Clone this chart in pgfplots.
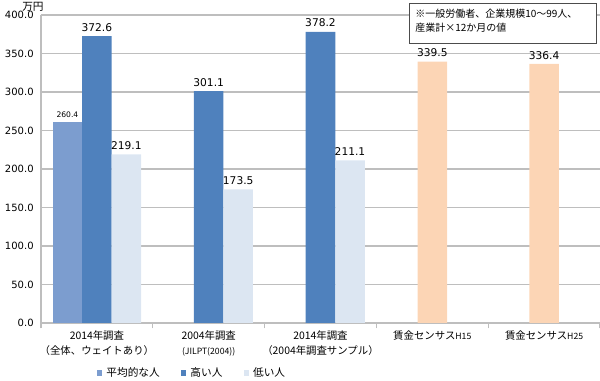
\documentclass[border=0pt]{standalone}
\usepackage{fontspec}
\setmainfont{DejaVu Sans}
\newfontfamily\jp{Noto Sans CJK JP}
\usepackage{pgfplots}
\pgfplotsset{compat=1.18}
\definecolor{avgc}{RGB}{124,157,207}
\definecolor{highc}{RGB}{79,129,189}
\definecolor{lowc}{RGB}{220,230,242}
\definecolor{peach}{RGB}{252,213,181}
\definecolor{gridc}{RGB}{190,190,190}
\begin{document}
\begin{tikzpicture}[x=1pt,y=1pt]
\path[use as bounding box] (-30.75pt,-43.5pt) rectangle (419.25pt,242.25pt);
\begin{axis}[
 at={(0pt,0pt)}, anchor=south west,
 scale only axis, width=419.25pt, height=231pt,
 ymin=0, ymax=400, xmin=-0.5, xmax=4.5,
 ybar, bar width=0.264,
 ytick={0,50,...,400},
 ymajorgrids, grid style={gridc, line width=0.8pt},
 axis x line*=bottom, axis y line*=left,
 axis line style={gridc, line width=0.8pt, -},
 major tick length=0pt,
 minor tick length=4pt,
 tick align=outside,
 xtick={0,1,2,3,4},
 minor xtick={-0.5,0.5,1.5,2.5,3.5,4.5},
 minor tick style={gridc, line width=0.8pt},
 xticklabels={
  {2014年調査\\（全体、ウェイトあり）},
  {2004年調査\\{\fontsize{6.5}{8}\selectfont (JILPT(2004))}},
  {2014年調査\\（2004年調査サンプル）},
  {賃金センサス{\fontsize{6.5}{8}\selectfont H15}},
  {賃金センサス{\fontsize{6.5}{8}\selectfont H25}}},
 xticklabel style={align=center, font=\jp\fontsize{7.8}{11.3}\selectfont, text=black, anchor=north, yshift=-2.5pt},
 yticklabel style={font=\fontsize{7.5}{9}\selectfont, text=black, xshift=-2pt},
 /pgf/number format/.cd, fixed, fixed zerofill, precision=1, assume math mode=true,
 /pgfplots/.cd,
 legend style={at={(0.271,-0.162)}, anchor=center, draw=none, legend columns=3,
   font=\jp\fontsize{8}{9}\selectfont,
   /tikz/every odd column/.append style={column sep=1pt},
   /tikz/every even column/.append style={column sep=14pt}},
 legend image code/.code={\fill[#1] (0.5pt,-2pt) rectangle (4.5pt,2pt);},
 nodes near coords={\pgfmathprintnumber[fixed,fixed zerofill,precision=1]{\pgfplotspointmeta}},
 every node near coord/.append style={font=\fontsize{8}{9}\selectfont, text=black},
]
\addplot[fill=avgc, draw=none, bar shift=-0.264,
  every node near coord/.append style={font=\fontsize{5.7}{7}\selectfont}]
  coordinates {(0,260.4)};
\addplot[fill=highc, draw=none, bar shift=0] coordinates {(0,372.6) (1,301.1) (2,378.2)};
\addplot[fill=lowc, draw=none, bar shift=0.264] coordinates {(0,219.1) (1,173.5) (2,211.1)};
\addplot[fill=peach, draw=none, bar shift=0, forget plot] coordinates {(3,339.5) (4,336.4)};
\legend{平均的な人, 高い人, 低い人}
\end{axis}
\node[font=\jp\fontsize{8}{9}\selectfont] at (-6pt,237.5pt) {万円};
\draw[black!70, line width=0.7pt, fill=white] (276pt,240pt) rectangle (416.25pt,210pt);
\node[font=\jp\fontsize{7.5}{10.5}\selectfont, align=left, anchor=north west, inner sep=0pt] at (280.5pt,236pt)
 {※一般労働者、企業規模10～99人、\\産業計×12か月の値};
\end{tikzpicture}
\end{document}
